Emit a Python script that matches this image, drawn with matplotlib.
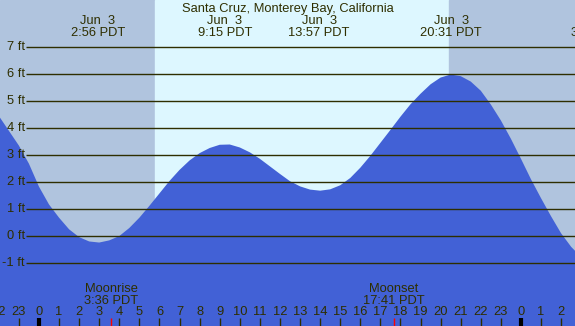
import matplotlib
matplotlib.use("Agg")
import matplotlib.pyplot as plt

# tide height (ft), every half hour (hours from midnight Jun 3)
hours = [-2.0, -1.5, -1.0, -0.5, 0.0, 0.5, 1.0, 1.5, 2.0, 2.5, 3.0, 3.5, 4.0,
         4.5, 5.0, 5.5, 6.0, 6.5, 7.0, 7.5, 8.0, 8.5, 9.0, 9.5,
         10.0, 10.5, 11.0, 11.5, 12.0, 12.5, 13.0, 13.5, 14.0,
         14.5, 15.0, 15.5, 16.0, 16.5, 17.0, 17.5, 18.0, 18.5, 19.0, 19.5, 20.0, 20.5,
         21.0, 21.5, 22.0, 22.5, 23.0, 23.5, 24.0, 24.5, 25.0, 25.5, 26.0, 26.5, 27.0]
height = [4.45, 3.9, 3.35, 2.68, 1.83, 1.17, 0.68, 0.25, -0.04, -0.2, -0.24, -0.16, 0.0,
          0.3, 0.68, 1.12, 1.58, 2.04, 2.45, 2.8, 3.07, 3.26, 3.38, 3.39,
          3.28, 3.1, 2.86, 2.58, 2.3, 2.03, 1.84, 1.72, 1.68,
          1.73, 1.88, 2.15, 2.53, 2.97, 3.45, 3.93, 4.42, 4.88, 5.27, 5.62, 5.87, 5.98,
          5.92, 5.72, 5.38, 4.87, 4.28, 3.6, 2.86, 2.1, 1.4, 0.73, 0.1, -0.4, -0.78]

# high / low tide labels
tide_hours = [2.93, 9.25, 13.95, 20.52, 27.85]
tide_dates = ["Jun  3", "Jun  3", "Jun  3", "Jun  3", "Jun  4"]
tide_times = ["2:56 PDT", "9:15 PDT", "13:57 PDT", "20:31 PDT", "3:45 PDT"]

sunrise = 5.8
sunset = 20.42

moon_hours = [3.6, 17.68]
moon_names = ["Moonrise", "Moonset"]
moon_times = ["3:36 PDT", "17:41 PDT"]

levels = [-1, 0, 1, 2, 3, 4, 5, 6, 7]
tick_hours = list(range(-2, 27))

title = "Santa Cruz, Monterey Bay, California"

night = "#b0c4de"
day = "#ddf7ff"
water = "#4261d6"
ink = "#2e2e00"

plt.rcParams['font.family'] = ['Liberation Sans', 'DejaVu Sans']
fs = 9.3

fig = plt.figure(figsize=(5.75, 3.26), dpi=100)
ax = fig.add_axes([0, 0, 1, 1])
x0, x1 = -1.94, 26.69
y0, y1 = -3.33, 8.74
ax.set_xlim(x0, x1)
ax.set_ylim(y0, y1)
ax.axis("off")

ax.axvspan(x0, sunrise, color=night, zorder=0)
ax.axvspan(sunrise, sunset, color=day, zorder=0)
ax.axvspan(sunset, x1, color=night, zorder=0)

ax.fill_between(hours, height, y0, color=water, lw=0, zorder=1)

ax.hlines(levels, -0.65, x1, color=ink, lw=1.0, zorder=2)
for lv in levels:
    ax.text(-0.7, lv, f"{lv} ft", ha="right", va="center", fontsize=fs, color=ink, zorder=3)

ax.text((x0 + x1) / 2, 8.42, title, ha="center", va="center", fontsize=fs, color=ink)
for h, d, t in zip(tide_hours, tide_dates, tide_times):
    ax.text(h, 7.97, d, ha="center", va="center", fontsize=fs, color=ink)
    ax.text(h, 7.52, t, ha="center", va="center", fontsize=fs, color=ink)

for h, n, t in zip(moon_hours, moon_names, moon_times):
    ax.text(h, -1.95, n, ha="center", va="center", fontsize=fs, color=ink, zorder=3)
    ax.text(h, -2.39, t, ha="center", va="center", fontsize=fs, color=ink, zorder=3)
    ax.vlines(h, -3.33, -3.03, color="red", lw=1, zorder=3)

for h in tick_hours:
    ax.text(h, -2.82, str(h % 24), ha="center", va="center", fontsize=fs, color=ink, zorder=3)
    width = 3 if h % 24 == 0 else 1
    col = "black" if h % 24 == 0 else ink
    ax.vlines(h, -3.33, -3.03, color=col, lw=width, zorder=3)

fig.savefig("out.png", dpi=100)
